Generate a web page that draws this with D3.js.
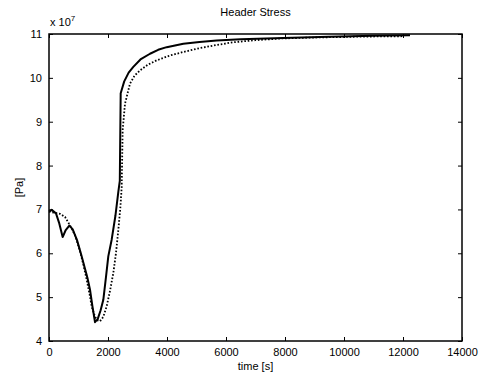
<!DOCTYPE html>
<html>
<head>
<meta charset="utf-8">
<script src="https://cdn.jsdelivr.net/npm/d3@7"></script>
<style>
  html, body { margin: 0; padding: 0; background: #fff; }
  svg text { font-family: "Liberation Sans", Arial, Helvetica, sans-serif; fill: #000; }
</style>
</head>
<body>
<svg id="chart" width="479" height="374"></svg>
<script>
// Header stress over time (values in units of 1e7 Pa)
const measuredTime = [0, 90, 237, 340, 463, 560, 689, 800, 950, 1100, 1220, 1300, 1390, 1470, 1559, 1650, 1750, 1841, 1930, 2010, 2124, 2250, 2350, 2400, 2430, 2550, 2700, 2858, 3100, 3424, 3700, 3989, 4554, 5100, 5684, 6500, 7932, 9500, 11000, 12237];
const measuredStress = [6.95, 6.99, 6.91, 6.70, 6.37, 6.52, 6.63, 6.55, 6.30, 5.95, 5.65, 5.45, 5.17, 4.80, 4.43, 4.50, 4.70, 4.94, 5.45, 5.93, 6.31, 6.85, 7.40, 7.65, 9.65, 9.92, 10.12, 10.25, 10.42, 10.55, 10.64, 10.70, 10.78, 10.82, 10.85, 10.88, 10.91, 10.94, 10.96, 10.97];

const modelTime = [0, 150, 373, 542, 768, 900, 1051, 1180, 1277, 1380, 1446, 1560, 1650, 1729, 1840, 1955, 2070, 2180, 2270, 2350, 2420, 2463, 2497, 2576, 2746, 2900, 3085, 3350, 3650, 4100, 4554, 5119, 5684, 6237, 7000, 7932, 9000, 10500, 12034];
const modelStress = [6.95, 6.93, 6.90, 6.83, 6.57, 6.38, 6.05, 5.70, 5.40, 5.05, 4.79, 4.55, 4.47, 4.45, 4.55, 4.79, 5.15, 5.55, 6.00, 6.53, 7.05, 7.50, 8.81, 9.41, 9.87, 10.05, 10.17, 10.30, 10.40, 10.51, 10.59, 10.68, 10.75, 10.81, 10.86, 10.90, 10.92, 10.94, 10.95];

const xTicks = [0, 2000, 4000, 6000, 8000, 10000, 12000, 14000];
const yTicks = [4, 5, 6, 7, 8, 9, 10, 11];

const svg = d3.select("#chart");
const margin = { left: 49, right: 17, top: 34, bottom: 33 };
const W = 479, H = 374;

const x = d3.scaleLinear().domain([0, 14000]).range([margin.left, W - margin.right]);
const y = d3.scaleLinear().domain([4, 11]).range([H - margin.bottom, margin.top]);

// Axes: labelled bottom/left, tick-only top/right, ticks pointing inward
const tickLen = 4;
svg.append("g")
  .attr("transform", `translate(0,${y(4)})`)
  .call(d3.axisBottom(x).tickValues(xTicks).tickSizeInner(-tickLen).tickSizeOuter(0).tickPadding(7).tickFormat(d3.format("d")))
  .call(g => g.selectAll("text").attr("font-size", 11));
svg.append("g")
  .attr("transform", `translate(0,${y(11)})`)
  .call(d3.axisTop(x).tickValues(xTicks).tickSizeInner(-tickLen).tickSizeOuter(0).tickFormat(""));
svg.append("g")
  .attr("transform", `translate(${x(0)},0)`)
  .call(d3.axisLeft(y).tickValues(yTicks).tickSizeInner(-tickLen).tickSizeOuter(0).tickPadding(7).tickFormat(d3.format("d")))
  .call(g => g.selectAll("text").attr("font-size", 11));
svg.append("g")
  .attr("transform", `translate(${x(14000)},0)`)
  .call(d3.axisRight(y).tickValues(yTicks).tickSizeInner(-tickLen).tickSizeOuter(0).tickFormat(""));

svg.selectAll(".domain").remove();
svg.selectAll(".tick line").attr("stroke", "#000").attr("stroke-width", 1);

// Plot frame
svg.append("rect")
  .attr("x", x(0)).attr("y", y(11))
  .attr("width", x(14000) - x(0)).attr("height", y(4) - y(11))
  .attr("fill", "none").attr("stroke", "#000").attr("stroke-width", 1.5);

const line = d3.line().x(d => x(d[0])).y(d => y(d[1]));

svg.append("path")
  .datum(modelTime.map((t, i) => [t, modelStress[i]]))
  .attr("d", line)
  .attr("fill", "none").attr("stroke", "#000")
  .attr("stroke-width", 1.8).attr("stroke-dasharray", "1.6,1.8");

svg.append("path")
  .datum(measuredTime.map((t, i) => [t, measuredStress[i]]))
  .attr("d", line)
  .attr("fill", "none").attr("stroke", "#000")
  .attr("stroke-width", 2).attr("stroke-linejoin", "round");

// Titles and labels
svg.append("text")
  .attr("x", (x(0) + x(14000)) / 2).attr("y", 16)
  .attr("text-anchor", "middle").attr("font-size", 11)
  .text("Header Stress");

const exp = svg.append("text").attr("x", 50).attr("y", 26).attr("font-size", 11);
exp.append("tspan").text("x 10");
exp.append("tspan").attr("dy", -5).attr("font-size", 8).text("7");

svg.append("text")
  .attr("x", (x(0) + x(14000)) / 2).attr("y", 370)
  .attr("text-anchor", "middle").attr("font-size", 11)
  .text("time [s]");

svg.append("text")
  .attr("transform", `translate(23,${(y(4) + y(11)) / 2}) rotate(-90)`)
  .attr("text-anchor", "middle").attr("font-size", 11)
  .text("[Pa]");
</script>
</body>
</html>
